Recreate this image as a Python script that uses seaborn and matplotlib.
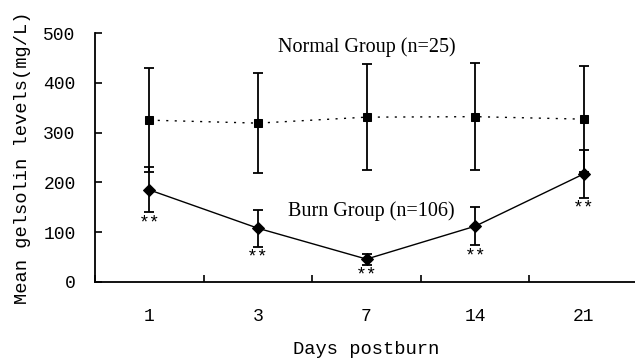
import matplotlib
matplotlib.use("Agg")
import matplotlib.pyplot as plt
import seaborn as sns
import pandas as pd
import numpy as np

# ---- data ----
days = ["1", "3", "7", "14", "21"]
normal_mean = [325, 319, 331, 332, 327]
normal_sd = [105, 100, 107, 108, 107]
burn_mean = [185, 108, 46, 112, 217]
burn_sd = [45, 37, 11, 38, 48]
yticks = [0, 100, 200, 300, 400, 500]
normal_label = "Normal Group (n=25)"
burn_label = "Burn Group (n=106)"
sig_label = "**"

sns.set_theme(style="white")
plt.rcParams["font.family"] = ["Liberation Mono", "DejaVu Sans"]

df = pd.DataFrame({
    "day": days * 2,
    "value": normal_mean + burn_mean,
    "sd": normal_sd + burn_sd,
    "group": ["Normal"] * len(days) + ["Burn"] * len(days),
})

fig = plt.figure(figsize=(6.35, 3.6), dpi=100)
ax = fig.add_axes([95 / 635, 78 / 360, 543 / 635, 249 / 360])

nd = df[df.group == "Normal"]
bd = df[df.group == "Burn"]

sns.lineplot(data=nd, x="day", y="value", ax=ax, color="black", lw=1.0,
             linestyle=(0, (1.5, 4.6)), marker="s", markersize=6,
             markeredgecolor="black", markerfacecolor="black", sort=False, zorder=3)
sns.lineplot(data=bd, x="day", y="value", ax=ax, color="black", lw=1.0,
             marker="D", markersize=6, markeredgecolor="black",
             markerfacecolor="black", sort=False, zorder=3)

pos = np.arange(len(days))
ax.errorbar(pos, nd["value"], yerr=nd["sd"], fmt="none", ecolor="black",
            elinewidth=1.3, capsize=3.6, capthick=1.3, zorder=2)
ax.errorbar(pos, bd["value"], yerr=bd["sd"], fmt="none", ecolor="black",
            elinewidth=1.3, capsize=3.6, capthick=1.3, zorder=2)

for p, m, s in zip(pos, burn_mean, burn_sd):
    ax.annotate(sig_label, (p, m - s), xytext=(0, -1.5), textcoords="offset points",
                ha="center", va="top", fontsize=13, family="Liberation Mono",
                color="black")

ax.text(2, 471, normal_label, ha="center", va="center", fontsize=14.5,
        family="Liberation Serif", color="black")
ax.text(2.04, 143, burn_label, ha="center", va="center", fontsize=14.5,
        family="Liberation Serif", color="black")

ax.set_xlim(-0.5, 4.5)
ax.set_ylim(0, 500)
ax.set_yticks(yticks)
ax.set_yticklabels([str(v) for v in yticks])

ax.set_xticks(np.arange(len(days) + 1) - 0.5)
ax.set_xticklabels([])
ax.set_xticks(pos, minor=True)
ax.set_xticklabels(days, minor=True)
ax.tick_params(axis="x", which="major", direction="in", length=5, width=1.2,
               color="black", bottom=True)
ax.tick_params(axis="x", which="minor", length=0, pad=19, labelsize=13,
               labelcolor="black")
ax.tick_params(axis="y", direction="in", length=5, width=1.2, color="black",
               left=True, pad=14, labelsize=13, labelcolor="black")

for side in ["top", "right"]:
    ax.spines[side].set_visible(False)
for side in ["left", "bottom"]:
    ax.spines[side].set_color("black")
    ax.spines[side].set_linewidth(1.3)

ax.set_xlabel("Days postburn", fontsize=13.5, color="black", labelpad=11)
ax.set_ylabel("Mean gelsolin levels(mg/L)", fontsize=13.5, color="black")
ax.yaxis.set_label_coords((31 - 95) / 543, (360 - 158 - 78) / 249)

fig.savefig("out.png", dpi=100)
